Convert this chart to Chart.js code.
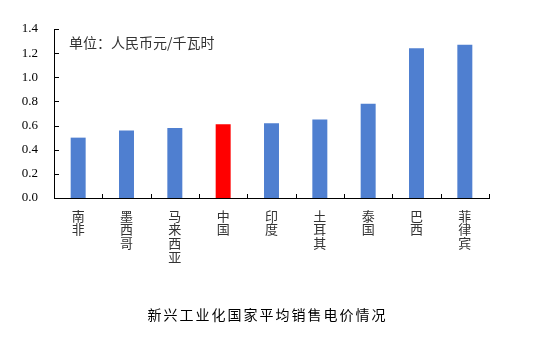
<!DOCTYPE html>
<html><head><meta charset="utf-8">
<script src="https://cdn.jsdelivr.net/npm/chart.js@4/dist/chart.umd.min.js"></script>
<style>html,body{margin:0;padding:0;background:#fff}#wrap{width:533px;height:339px}</style>
</head><body><div id="wrap"><canvas id="c" width="533" height="339"></canvas></div>
<script>
const categories = ['南非','墨西哥','马来西亚','中国','印度','土耳其','泰国','巴西','菲律宾'];
const prices = [0.50, 0.56, 0.58, 0.61, 0.62, 0.65, 0.78, 1.24, 1.27];
const highlight = '中国';
const unitNote = '单位：人民币元/千瓦时';
const chartTitle = '新兴工业化国家平均销售电价情况';

const cjk = '"Noto Sans CJK SC", sans-serif';
const serif = '"Liberation Serif", "Times New Roman", serif';

const decorPlugin = {
  id: 'decor',
  afterDraw(chart) {
    const ctx = chart.ctx, a = chart.chartArea;
    const xs = chart.scales.x, ys = chart.scales.y;
    ctx.save();
    // inward ticks
    ctx.strokeStyle = '#000';
    ctx.lineWidth = 1;
    ctx.beginPath();
    ys.ticks.forEach((t, i) => {
      const y = Math.round(ys.getPixelForTick(i)) + 0.5;
      ctx.moveTo(a.left, y); ctx.lineTo(a.left + 5, y);
    });
    const n = categories.length;
    for (let i = 0; i <= n; i++) {
      const x = Math.round(a.left + (a.right - a.left) * i / n) + 0.5;
      ctx.moveTo(x, a.bottom); ctx.lineTo(x, a.bottom - 4);
    }
    ctx.stroke();
    // unit note
    ctx.font = '14px ' + cjk;
    ctx.fillStyle = '#333';
    ctx.textBaseline = 'middle';
    ctx.textAlign = 'left';
    ctx.fillText(unitNote, a.left + 15, a.top + 14);
    // bottom title
    ctx.font = '14px ' + cjk;
    ctx.fillStyle = '#000';
    ctx.letterSpacing = '2px';
    ctx.textAlign = 'center';
    ctx.fillText(chartTitle, chart.width / 2 + 1, 315);
    ctx.restore();
  }
};

new Chart(document.getElementById('c'), {
  type: 'bar',
  data: {
    labels: categories.map(s => s.split('')),
    datasets: [{
      data: prices,
      backgroundColor: categories.map(c => c === highlight ? '#ff0000' : '#4f7fd0'),
      categoryPercentage: 1,
      barPercentage: 0.31
    }]
  },
  options: {
    responsive: false,
    animation: false,
    layout: { padding: { left: 0, right: 44, top: 29, bottom: 41 } },
    plugins: {
      legend: { display: false },
      tooltip: { enabled: false },
      title: { display: false }
    },
    scales: {
      x: {
        offset: true,
        grid: { display: false },
        border: { color: '#000', width: 1 },
        ticks: { color: '#333', font: { family: cjk, size: 13, lineHeight: 1.05 }, maxRotation: 0, padding: 3 },
        afterFit(s) { s.height = 100; }
      },
      y: {
        min: 0, max: 1.4,
        grid: { display: false },
        border: { color: '#000', width: 1 },
        ticks: { stepSize: 0.2, color: '#000', font: { family: serif, size: 13 }, padding: 8,
          crossAlign: 'near', callback: v => v.toFixed(1) },
        afterFit(s) { s.width = 54; }
      }
    }
  },
  plugins: [decorPlugin]
});
</script></body></html>
